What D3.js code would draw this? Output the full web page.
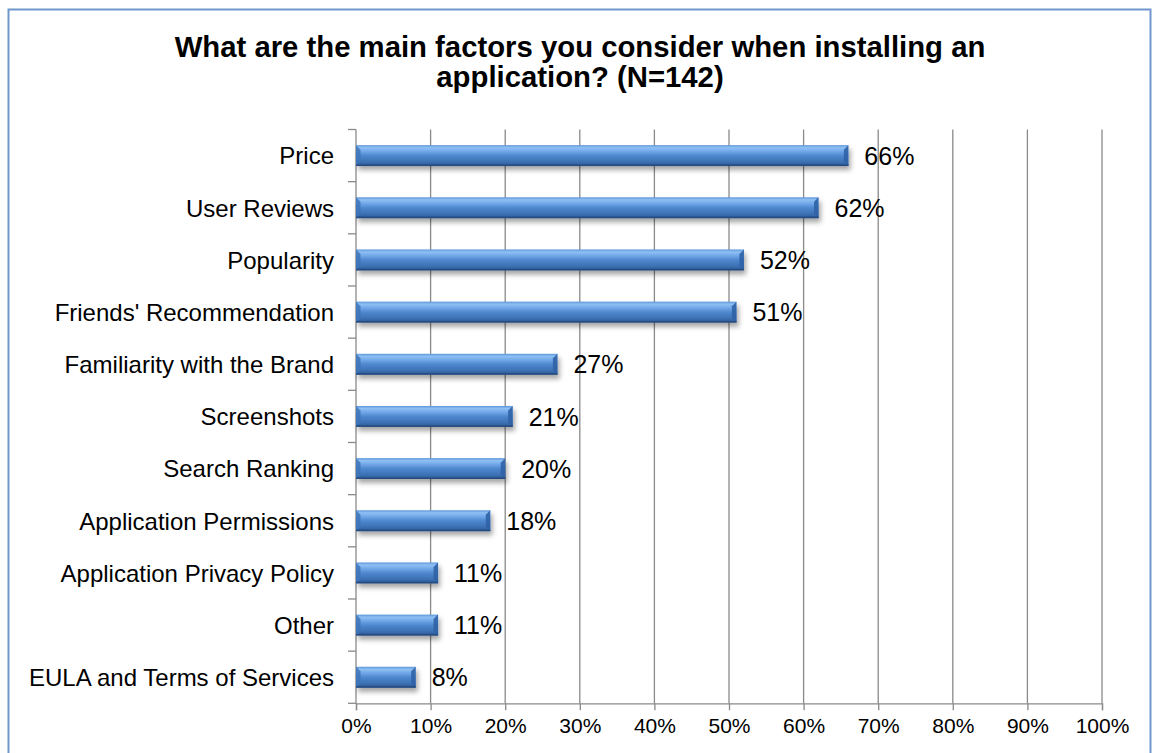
<!DOCTYPE html>
<html>
<head>
<meta charset="utf-8">
<script src="https://cdn.jsdelivr.net/npm/d3@7"></script>
<style>
  html, body { margin: 0; padding: 0; background: #ffffff; }
  svg { display: block; }
  text { font-family: "Liberation Sans", Arial, sans-serif; fill: #000; }
</style>
</head>
<body>
<svg id="chart" width="1155" height="753"></svg>
<script>
// Survey answers: share of respondents citing each factor
const categories = [
  "Price",
  "User Reviews",
  "Popularity",
  "Friends' Recommendation",
  "Familiarity with the Brand",
  "Screenshots",
  "Search Ranking",
  "Application Permissions",
  "Application Privacy Policy",
  "Other",
  "EULA and Terms of Services"
];
const values = [66, 62, 52, 51, 27, 21, 20, 18, 11, 11, 8];
const xTicks = [0, 10, 20, 30, 40, 50, 60, 70, 80, 90, 100];
const titleLines = [
  "What are the main factors you consider when installing an",
  "application? (N=142)"
];

const svg = d3.select("#chart");

// outer chart frame
svg.append("rect")
  .attr("x", 8.5).attr("y", 9.5)
  .attr("width", 1142).attr("height", 760)
  .attr("fill", "#fff")
  .attr("stroke", "#6f97cc")
  .attr("stroke-width", 2);

const plot = { left: 356, right: 1102, top: 129.5, bottom: 703.3 };

const x = d3.scaleLinear().domain([0, 100]).range([plot.left, plot.right]);
const y = d3.scaleBand().domain(categories).range([plot.top, plot.bottom]).paddingInner(0).paddingOuter(0);

const defs = svg.append("defs");
const grad = defs.append("linearGradient")
  .attr("id", "barFace").attr("x1", 0).attr("y1", 0).attr("x2", 0).attr("y2", 1);
[
  [0, "#5b95da"], [0.12, "#8fc0f3"], [0.28, "#74aaea"], [0.5, "#4f88cf"],
  [0.8, "#3c71b4"], [1, "#2b5690"]
].forEach(([o, c]) => grad.append("stop").attr("offset", o).attr("stop-color", c));

const shadow = defs.append("filter").attr("id", "barShadow")
  .attr("x", "-10%").attr("y", "-40%").attr("width", "130%").attr("height", "200%");
shadow.append("feDropShadow")
  .attr("dx", 2).attr("dy", 4).attr("stdDeviation", 2.4)
  .attr("flood-color", "#000").attr("flood-opacity", 0.35);

// title
svg.append("g").selectAll("text")
  .data(titleLines)
  .join("text")
  .attr("x", 580)
  .attr("y", (d, i) => 57 + i * 30)
  .attr("text-anchor", "middle")
  .attr("font-size", 29.3)
  .attr("font-weight", "bold")
  .text(d => d);

// vertical gridlines
svg.append("g").selectAll("line")
  .data(xTicks.filter(t => t > 0))
  .join("line")
  .attr("x1", d => x(d)).attr("x2", d => x(d))
  .attr("y1", plot.top).attr("y2", plot.bottom)
  .attr("stroke", "#8a8a8a").attr("stroke-width", 1.3);

// bottom value axis
const xAxis = d3.axisBottom(x)
  .tickValues(xTicks)
  .tickSize(7)
  .tickPadding(8)
  .tickFormat(d => d + "%");
const gx = svg.append("g")
  .attr("transform", `translate(0,${plot.bottom})`)
  .call(xAxis);
gx.select(".domain").attr("stroke", "#8a8a8a").attr("stroke-width", 1.3);
gx.selectAll(".tick line").attr("stroke", "#8a8a8a").attr("stroke-width", 1.3);
gx.selectAll(".tick text")
  .attr("font-size", 21)
  .attr("font-family", "Liberation Sans, Arial, sans-serif")
  .attr("fill", "#000");

// left category axis: ticks sit on band boundaries
const boundaries = categories.map(c => y(c)).concat([plot.bottom]);
svg.append("line")
  .attr("x1", plot.left).attr("x2", plot.left)
  .attr("y1", plot.top).attr("y2", plot.bottom)
  .attr("stroke", "#8a8a8a").attr("stroke-width", 1.3);
svg.append("g").selectAll("line")
  .data(boundaries)
  .join("line")
  .attr("x1", plot.left - 8).attr("x2", plot.left)
  .attr("y1", d => d).attr("y2", d => d)
  .attr("stroke", "#8a8a8a").attr("stroke-width", 1.3);

svg.append("g").selectAll("text")
  .data(categories)
  .join("text")
  .attr("x", 334)
  .attr("y", d => y(d) + y.bandwidth() / 2)
  .attr("dy", "0.37em")
  .attr("text-anchor", "end")
  .attr("font-size", 24)
  .text(d => d);

// bars with bevelled ends
const barH = y.bandwidth() * 0.4;
const bev = 4.5;
const bars = svg.append("g").selectAll("g")
  .data(categories.map((c, i) => ({ c, v: values[i] })))
  .join("g")
  .attr("filter", "url(#barShadow)");

bars.append("rect")
  .attr("x", x(0))
  .attr("y", d => y(d.c) + (y.bandwidth() - barH) / 2)
  .attr("width", d => x(d.v) - x(0))
  .attr("height", barH)
  .attr("fill", "url(#barFace)");

// left end facet
bars.append("path")
  .attr("d", d => {
    const x0 = x(0), y0 = y(d.c) + (y.bandwidth() - barH) / 2, y1 = y0 + barH;
    return `M${x0},${y0}L${x0 + bev},${y0 + bev}L${x0 + bev},${y1 - bev}L${x0},${y1}Z`;
  })
  .attr("fill", "#3e74ba").attr("opacity", 0.85);

// right end facet
bars.append("path")
  .attr("d", d => {
    const x1 = x(d.v), y0 = y(d.c) + (y.bandwidth() - barH) / 2, y1 = y0 + barH;
    return `M${x1},${y0}L${x1 - bev},${y0 + bev}L${x1 - bev},${y1 - bev}L${x1},${y1}Z`;
  })
  .attr("fill", "#2f62a6").attr("opacity", 0.9);

// bottom rim
bars.append("rect")
  .attr("x", x(0))
  .attr("y", d => y(d.c) + (y.bandwidth() + barH) / 2 - 1.5)
  .attr("width", d => x(d.v) - x(0))
  .attr("height", 1.5)
  .attr("fill", "#254c80");

// value labels
svg.append("g").selectAll("text")
  .data(categories.map((c, i) => ({ c, v: values[i] })))
  .join("text")
  .attr("x", d => x(d.v) + 16)
  .attr("y", d => y(d.c) + y.bandwidth() / 2)
  .attr("dy", "0.37em")
  .attr("font-size", 25)
  .text(d => d.v + "%");
</script>
</body>
</html>
